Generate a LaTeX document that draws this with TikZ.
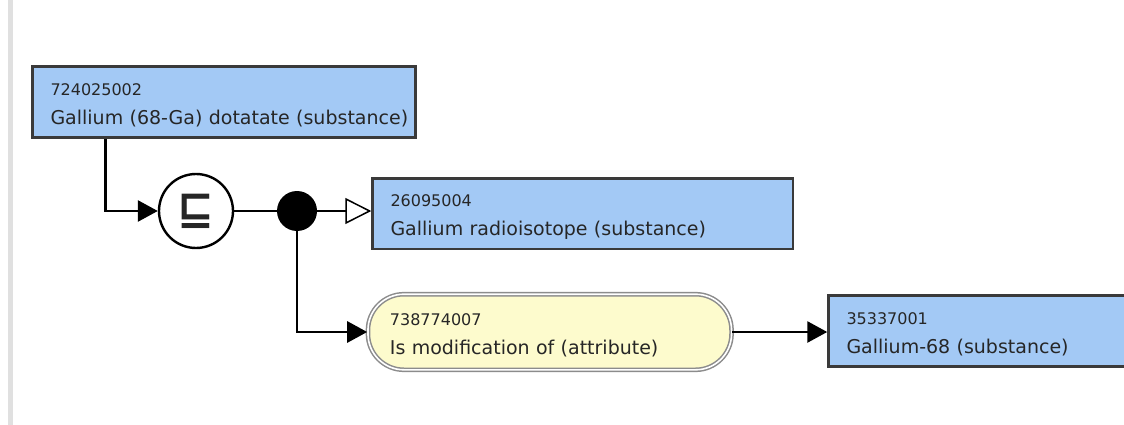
\documentclass[tikz,border=0pt]{standalone}
\usepackage{fontspec}
\setmainfont{DejaVu Sans}
\usetikzlibrary{arrows.meta}
\definecolor{BoxBlue}{HTML}{A3C9F5}
\definecolor{BoxEdge}{HTML}{3A3A3A}
\definecolor{PillYellow}{HTML}{FDFBCD}
\definecolor{PillEdge}{HTML}{8C8C8C}
\definecolor{BarGrey}{HTML}{E0E0E0}
\newcommand{\sctid}[1]{{\fontsize{16}{16}\selectfont\rule{0pt}{18pt}#1}}

\begin{document}
\begin{tikzpicture}[x=1pt,y=-1pt,every node/.style={text=black!85},
  concept/.style={draw=BoxEdge,line width=2.5pt,fill=BoxBlue,anchor=west,align=left,inner xsep=18pt,minimum height=71pt,font=\fontsize{19}{29}\selectfont},
  attrib/.style={draw=PillEdge,double=white,double distance=1.6pt,line width=1.5pt,fill=PillYellow,rounded corners=36pt,anchor=west,align=left,inner xsep=22pt,minimum height=75.6pt,font=\fontsize{19}{29}\selectfont},
  link/.style={line width=2.8pt,-{Triangle[length=20pt,width=21pt]}}]
\useasboundingbox (0,0) rectangle (1124,425); \fill[white] (0,0) rectangle (1124,425); \clip (0,0) rectangle (1124,425);
\fill[BarGrey] (8,0) rectangle (13,425);
\node[concept,text width=347pt] (gad) at (31.25,102) {\sctid{724025002}\\\mbox{Gallium (68-Ga) dotatate (substance)}};
\node[draw,circle,line width=2.4pt,minimum size=74pt,inner sep=0pt] (sub) at (196,211) {\fontsize{44}{44}\selectfont\bfseries ⊑};
\node[circle,fill=black,minimum size=40pt,inner sep=0pt] (jn) at (297,211) {};
\node[concept,text width=384.5pt,minimum height=70.5pt] (gr) at (371.25,213.5) {\sctid{26095004}\\Gallium radioisotope (substance)};
\node[attrib,text width=319.6pt] (mod) at (367.2,332) {\sctid{738774007}\\Is modification of (attribute)};
\node[concept,text width=304pt] (ga) at (827.25,331) {\sctid{35337001}\\Gallium-68 (substance)};
\draw[link] ([xshift=74pt]gad.south west) |- (sub);
\draw[line width=2.6pt] (sub) -- (jn);
\draw[line width=2.4pt,-{Triangle[open,length=26pt,width=26pt,line width=1.5pt,fill=white]}] (jn) -- (jn -| gr.west);
\draw[link] (jn) |- (mod);
\draw[link] (mod) -- (mod -| ga.west);
\end{tikzpicture}
\end{document}
